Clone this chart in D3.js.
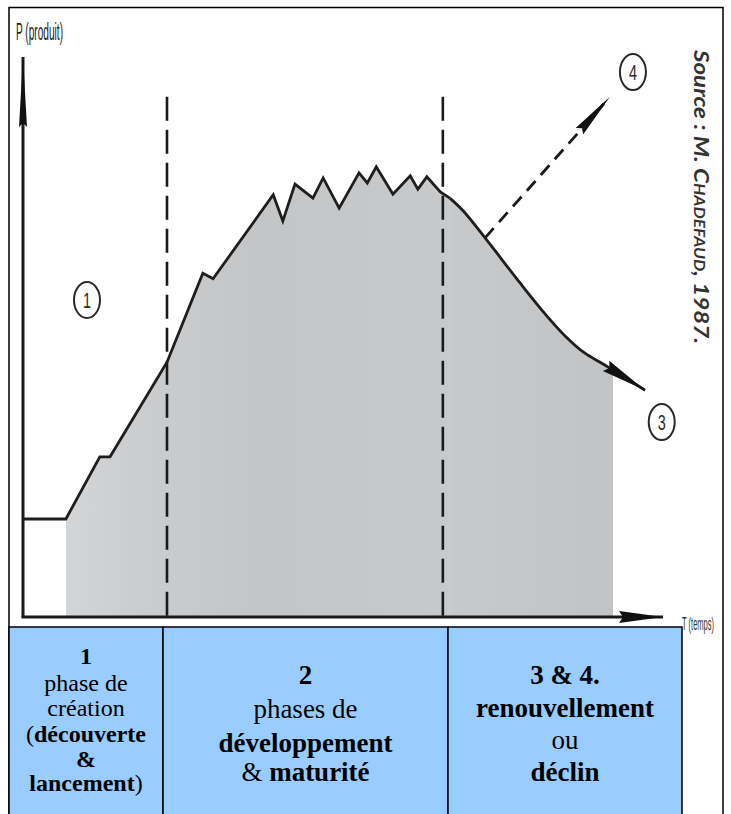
<!DOCTYPE html>
<html>
<head>
<meta charset="utf-8">
<script src="https://cdn.jsdelivr.net/npm/d3@7"></script>
<style>
  body { margin: 0; background: #fff; }
  svg { display: block; }
</style>
</head>
<body>
<div id="chart"></div>
<script>
// product life cycle curve, t = time (0-100), p = product (0-100)
var riseT  = [0, 6.7, 12.0, 13.6, 22.5, 28.1, 29.7, 39.1, 40.6, 42.5, 45.3, 46.9, 49.4, 52.5, 53.8, 55.2, 57.8, 60.5, 61.7, 63.1, 65.2, 66.7];
var riseP  = [17.5, 17.5, 28.6, 28.6, 45.5, 61.4, 60.4, 75.4, 70.7, 77.3, 74.8, 78.4, 73.0, 79.3, 77.5, 80.4, 75.5, 78.8, 76.4, 78.6, 75.9, 74.8];
var declineT = [66.7, 68.8, 72.2, 77.7, 81.6, 84.7, 87.8, 90.9, 97.2];
var declineP = [74.8, 72.5, 67.7, 59.6, 54.1, 50.2, 47.1, 45.0, 40.5];

var phaseBounds = [22.5, 65.6];          // dashed separators
var shadeRange = [6.7, 92.2];            // grey area
var renewFrom = [72.2, 67.7], renewTo = [91.7, 92.9];  // dashed arrow 4

var phase1Lines = [[["1", true]], [["phase de", false]], [["création", false]],
                   [["(", false], ["découverte", true]], [["&", true]], [["lancement", true], [")", false]]];
var phase2Lines = [[["2", true]], [["phases de", false]], [["développement", true]], [["& ", false], ["maturité", true]]];
var phase3Lines = [[["3 & 4.", true]], [["renouvellement", true]], [["ou", false]], [["déclin", true]]];

var W = 731, H = 814;
var svg = d3.select('#chart').append('svg').attr('width', W).attr('height', H);

var x = d3.scaleLinear().domain([0, 100]).range([23, 663]);
var y = d3.scaleLinear().domain([0, 100]).range([617, 57]);

var rise = riseT.map(function(t, i) { return [t, riseP[i]]; });
var decline = declineT.map(function(t, i) { return [t, declineP[i]]; });

var defs = svg.append('defs');
var grad = defs.append('linearGradient').attr('id', 'shade').attr('gradientUnits', 'userSpaceOnUse')
  .attr('x1', x(shadeRange[0])).attr('x2', x(shadeRange[1])).attr('y1', 0).attr('y2', 0);
grad.append('stop').attr('offset', '0%').attr('stop-color', '#d3d5d6');
grad.append('stop').attr('offset', '12%').attr('stop-color', '#cbcdce');
grad.append('stop').attr('offset', '35%').attr('stop-color', '#c4c5c6');
grad.append('stop').attr('offset', '70%').attr('stop-color', '#c8c9ca');
grad.append('stop').attr('offset', '100%').attr('stop-color', '#c2c3c4');

defs.append('clipPath').attr('id', 'shadeClip')
  .append('rect')
  .attr('x', x(shadeRange[0])).attr('y', 0)
  .attr('width', x(shadeRange[1]) - x(shadeRange[0])).attr('height', y(0));

// outer frame
svg.append('path')
  .attr('d', 'M9,' + H + 'V7.5H723V' + H)
  .attr('fill', 'none').attr('stroke', '#000').attr('stroke-width', 1.5);

// ============================================================
// grey area under the curve
var area = d3.area().x(function(d) { return x(d[0]); }).y0(y(0)).y1(function(d) { return y(d[1]); });
var g = svg.append('g').attr('clip-path', 'url(#shadeClip)');
g.append('path').datum(rise).attr('d', area.curve(d3.curveLinear)).attr('fill', 'url(#shade)');
g.append('path').datum(decline).attr('d', area.curve(d3.curveCatmullRom)).attr('fill', 'url(#shade)');

// ============================================================
// dashed phase separators
svg.selectAll('.sep').data(phaseBounds).enter().append('line')
  .attr('x1', function(d) { return x(d); }).attr('x2', function(d) { return x(d); })
  .attr('y1', y(92.9)).attr('y2', y(0))
  .attr('stroke', '#1a1a1a').attr('stroke-width', 2.6)
  .attr('stroke-dasharray', '24,9');

// arrowhead helper
function arrowHead(x1, y1, x2, y2, len, half) {
  var dx = x2 - x1, dy = y2 - y1, l = Math.sqrt(dx * dx + dy * dy);
  var ux = dx / l, uy = dy / l;
  var bx = x2 - ux * len, by = y2 - uy * len;
  return [[x2, y2], [bx - uy * half, by + ux * half], [bx + ux * 4, by + uy * 4], [bx + uy * half, by - ux * half]];
}
function drawHead(pts) {
  svg.append('path').attr('d', 'M' + pts.join('L') + 'Z').attr('fill', '#111');
}

// axes
svg.append('line').attr('x1', x(0)).attr('x2', x(0)).attr('y1', y(100)).attr('y2', y(0))
  .attr('stroke', '#1a1a1a').attr('stroke-width', 3);
svg.append('line').attr('x1', x(0) - 1.5).attr('x2', x(100)).attr('y1', y(0)).attr('y2', y(0))
  .attr('stroke', '#1a1a1a').attr('stroke-width', 3.2);
drawHead(arrowHead(x(0), y(0), x(0), y(100), 70, 4));
drawHead(arrowHead(x(0), y(0), x(100), y(0), 44, 6));

// ============================================================
// the curve
var line = d3.line().x(function(d) { return x(d[0]); }).y(function(d) { return y(d[1]); });
svg.append('path').datum(rise).attr('d', line.curve(d3.curveLinear))
  .attr('fill', 'none').attr('stroke', '#1e1e1e').attr('stroke-width', 2.8).attr('stroke-linejoin', 'miter');
svg.append('path').datum(decline).attr('d', line.curve(d3.curveCatmullRom))
  .attr('fill', 'none').attr('stroke', '#1e1e1e').attr('stroke-width', 2.8);
var n = decline.length;
drawHead(arrowHead(x(decline[n - 2][0]), y(decline[n - 2][1]), x(decline[n - 1][0]), y(decline[n - 1][1]), 46, 6));

// dashed arrow (4)
svg.append('line')
  .attr('x1', x(renewFrom[0])).attr('y1', y(renewFrom[1]))
  .attr('x2', x(renewTo[0]) - 6).attr('y2', y(renewTo[1]) + 7)
  .attr('stroke', '#1a1a1a').attr('stroke-width', 2.8).attr('stroke-dasharray', '13,8');
drawHead(arrowHead(x(renewFrom[0]), y(renewFrom[1]), x(renewTo[0]), y(renewTo[1]), 46, 5));

// circled numbers
[["1", 10, 56.6], ["3", 99.8, 34.8], ["4", 95.3, 97.3]].forEach(function(c) {
  svg.append('ellipse').attr('cx', x(c[1])).attr('cy', y(c[2])).attr('rx', 13).attr('ry', 18)
    .attr('fill', 'none').attr('stroke', '#2a2a2a').attr('stroke-width', 2);
  svg.append('text').attr('x', x(c[1])).attr('y', y(c[2]) + 8)
    .attr('text-anchor', 'middle').attr('font-family', 'Liberation Sans, sans-serif')
    .attr('font-size', 22).attr('textLength', 8).attr('lengthAdjust', 'spacingAndGlyphs')
    .attr('fill', '#2a2a2a').text(c[0]);
});

// axis labels
svg.append('text').attr('x', 16).attr('y', 40)
  .attr('font-family', 'Liberation Sans, sans-serif').attr('font-size', 23)
  .attr('textLength', 47).attr('lengthAdjust', 'spacingAndGlyphs').attr('fill', '#222')
  .text('P (produit)');
svg.append('text').attr('x', 682).attr('y', 630)
  .attr('font-family', 'Liberation Sans, sans-serif').attr('font-size', 19)
  .attr('textLength', 32).attr('lengthAdjust', 'spacingAndGlyphs').attr('fill', '#333')
  .text('T (temps)');

// source, rotated
var src = svg.append('text').attr('transform', 'translate(694,50) rotate(90)')
  .attr('font-family', 'Lato, sans-serif').attr('font-style', 'italic').attr('font-weight', 'bold')
  .attr('font-size', 21).attr('fill', '#333')
  .attr('textLength', 294).attr('lengthAdjust', 'spacingAndGlyphs');
src.append('tspan').text('Source : M. ');
src.append('tspan').attr('font-variant', 'small-caps').text('Chadefaud');
src.append('tspan').text(', 1987.');

// ============================================================
// phase table
var cells = [
  { x0: 9, x1: 163, lines: phase1Lines, size: 24, base: [664, 691, 716, 742, 767, 791] },
  { x0: 163, x1: 448, lines: phase2Lines, size: 27, base: [684, 718, 752, 781] },
  { x0: 448, x1: 682, lines: phase3Lines, size: 27, base: [684, 717, 749, 781] }
];
var tableTop = 627;
svg.selectAll('.cell').data(cells).enter().append('rect')
  .attr('class', 'cell')
  .attr('x', function(d) { return d.x0; }).attr('y', tableTop)
  .attr('width', function(d) { return d.x1 - d.x0; }).attr('height', H - tableTop + 2)
  .attr('fill', '#99ccff').attr('stroke', '#000').attr('stroke-width', 1.5);

cells.forEach(function(c) {
  c.lines.forEach(function(segs, i) {
    var t = svg.append('text').attr('x', (c.x0 + c.x1) / 2).attr('y', c.base[i])
      .attr('text-anchor', 'middle').attr('font-family', 'Liberation Serif, Times New Roman, serif')
      .attr('font-size', c.size).attr('fill', '#000');
    segs.forEach(function(s) {
      t.append('tspan').attr('font-weight', s[1] ? 'bold' : 'normal').text(s[0]);
    });
  });
});
</script>
</body>
</html>
